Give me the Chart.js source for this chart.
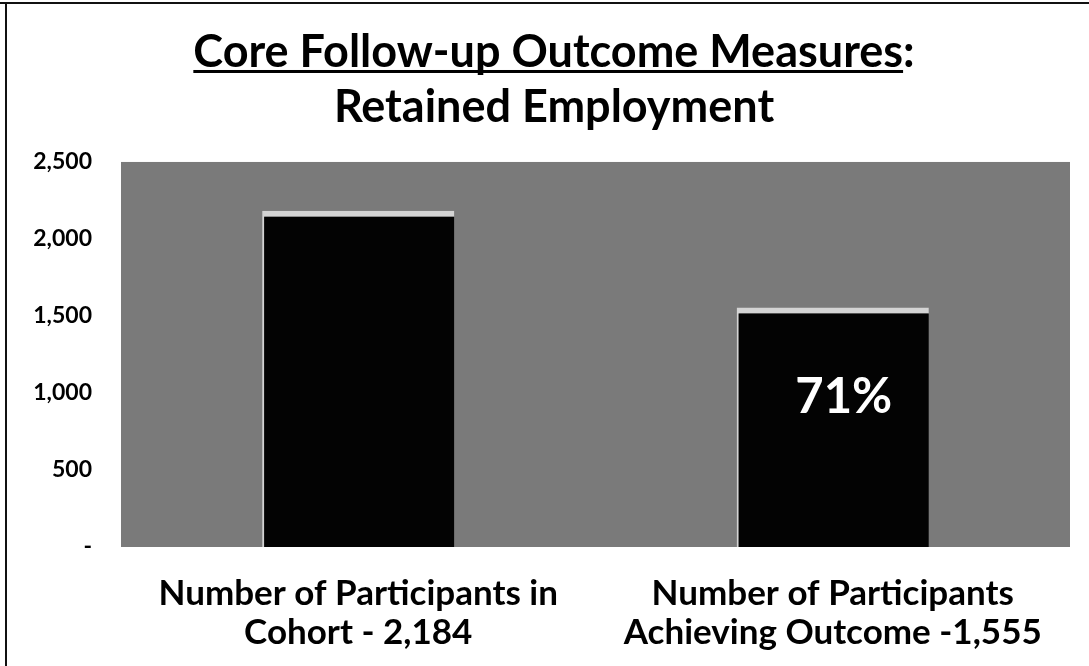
<!DOCTYPE html>
<html>
<head>
<meta charset="utf-8">
<script src="https://cdn.jsdelivr.net/npm/chart.js@4"></script>
<style>
  html, body { margin: 0; padding: 0; background: #fff; }
  #wrap { width: 1089px; height: 666px; position: relative; }
</style>
</head>
<body>
<div id="wrap"><canvas id="chart"></canvas></div>
<script>
// Chart data
const categories = [
    ['Number of Participants in', 'Cohort - 2,184'],
    ['Number of Participants', 'Achieving Outcome -1,555']
];
const participants = [2184, 1555];
const barLabels = ['', '71%'];
const yTicks = [0, 500, 1000, 1500, 2000, 2500];

const FONT = 'Lato, "Open Sans", sans-serif';

// Grey plot background, page frame and title underline
const decorPlugin = {
    id: 'decor',
    afterLayout(chart) {
        // title sits a little right of the page centre in the original
        if (chart.titleBlock) chart.titleBlock.left += 18;
    },
    beforeDraw(chart) {
        const { ctx, chartArea } = chart;
        ctx.save();
        ctx.fillStyle = '#ffffff';
        ctx.fillRect(0, 0, chart.width, chart.height);
        ctx.fillStyle = '#7a7a7a';
        ctx.fillRect(chartArea.left, chartArea.top, chartArea.right - chartArea.left, chartArea.bottom - chartArea.top);
        // scanned page frame (top and left edges)
        ctx.fillStyle = '#111';
        ctx.fillRect(0, 2, chart.width, 2);
        ctx.fillRect(5, 2, 2, chart.height);
        ctx.restore();
    },
    afterDraw(chart) {
        const { ctx } = chart;
        const title = chart.titleBlock;
        if (!title) return;
        const opts = chart.options.plugins.title;
        const size = opts.font.size;
        ctx.save();
        ctx.font = 'bold ' + size + 'px ' + FONT;
        const line = opts.text[0];
        const w = ctx.measureText(line.replace(/:$/, '')).width;
        const full = ctx.measureText(line).width;
        const cx = (title.left + title.right) / 2;
        const lh = size * opts.font.lineHeight;
        const y = title.top + opts.padding.top + lh / 2 + size * 0.4;
        ctx.fillStyle = '#000';
        ctx.fillRect(cx - full / 2, y, w, 3);
        ctx.restore();
    }
};

// Percentage label drawn inside the bar
const barLabelPlugin = {
    id: 'barLabel',
    afterDatasetsDraw(chart) {
        const { ctx } = chart;
        const meta = chart.getDatasetMeta(0);
        ctx.save();
        ctx.font = 'bold 49px ' + FONT;
        ctx.textAlign = 'center';
        ctx.textBaseline = 'middle';
        ctx.fillStyle = '#ffffff';
        meta.data.forEach((bar, i) => {
            if (!barLabels[i]) return;
            ctx.fillText(barLabels[i], bar.x + 11, bar.y + 90);
        });
        ctx.restore();
    }
};

new Chart(document.getElementById('chart'), {
    type: 'bar',
    data: {
        labels: categories,
        datasets: [{
            data: participants,
            backgroundColor: '#030303',
            borderColor: '#d4d4d4',
            borderWidth: { top: 6, left: 2, right: 0, bottom: 0 },
            borderSkipped: false,
            barPercentage: 0.405,
            categoryPercentage: 1
        }]
    },
    options: {
        responsive: true,
        maintainAspectRatio: false,
        animation: false,
        layout: { padding: { left: 20, right: 19, top: 0, bottom: 0 } },
        plugins: {
            legend: { display: false },
            tooltip: { enabled: false },
            title: {
                display: true,
                text: ['Core Follow-up Outcome Measures:', 'Retained Employment'],
                color: '#000',
                font: { family: FONT, size: 45, weight: 'bold', lineHeight: 1.244 },
                padding: { top: 24, bottom: 26 }
            }
        },
        scales: {
            x: {
                grid: { display: false, drawTicks: false },
                border: { display: false },
                ticks: {
                    color: '#000',
                    padding: 27,
                    maxRotation: 0,
                    font: { family: FONT, size: 35, weight: 'bold', lineHeight: 1.12 }
                },
                afterFit(scale) { scale.height = 119; }
            },
            y: {
                min: 0,
                max: 2500,
                afterBuildTicks(scale) { scale.ticks = yTicks.map(v => ({ value: v })); },
                grid: { display: false, drawTicks: false },
                border: { display: false },
                ticks: {
                    color: '#000',
                    padding: 29,
                    font: { family: FONT, size: 23, weight: 'bold' },
                    callback: v => v === 0 ? '-' : v.toLocaleString('en-US')
                },
                afterFit(scale) { scale.width = 101; }
            }
        }
    },
    plugins: [decorPlugin, barLabelPlugin]
});
</script>
</body>
</html>
